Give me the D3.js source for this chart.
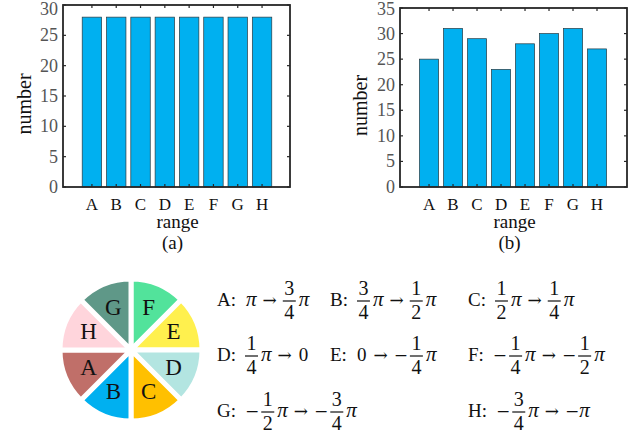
<!DOCTYPE html>
<html><head><meta charset="utf-8">
<script src="https://cdn.jsdelivr.net/npm/d3@7"></script>
<style>body{margin:0;background:#fff}svg{display:block}</style>
</head><body>
<svg id="c" width="633" height="438"></svg>
<script>
const categories = ["A","B","C","D","E","F","G","H"];
const valuesA = [28,28,28,28,28,28,28,28];
const valuesB = [25,31,29,23,28,30,31,27];
const yTicksA = [0,5,10,15,20,25,30];
const yTicksB = [0,5,10,15,20,25,30,35];
const sectorShare = [1,1,1,1,1,1,1,1];
const sectorOrder = ["F","E","D","C","B","A","H","G"];
const sectorColors = {F:"#52e39b",E:"#fff04e",D:"#b3e5e1",C:"#ffc000",B:"#00b0f0",A:"#c06f69",H:"#ffd5dc",G:"#5f9888"};
const rangeLabels = [
  {k:"A", parts:[{t:"π"},{t:"→"},{f:["3","4"]},{t:"π"}]},
  {k:"B", parts:[{f:["3","4"]},{t:"π"},{t:"→"},{f:["1","2"]},{t:"π"}]},
  {k:"C", parts:[{f:["1","2"]},{t:"π"},{t:"→"},{f:["1","4"]},{t:"π"}]},
  {k:"D", parts:[{f:["1","4"]},{t:"π"},{t:"→"},{t:"0"}]},
  {k:"E", parts:[{t:"0"},{t:"→"},{t:"−"},{f:["1","4"]},{t:"π"}]},
  {k:"F", parts:[{t:"−"},{f:["1","4"]},{t:"π"},{t:"→"},{t:"−"},{f:["1","2"]},{t:"π"}]},
  {k:"G", parts:[{t:"−"},{f:["1","2"]},{t:"π"},{t:"→"},{t:"−"},{f:["3","4"]},{t:"π"}]},
  {k:"H", parts:[{t:"−"},{f:["3","4"]},{t:"π"},{t:"→"},{t:"−",tight:true},{t:"π",tight:true}]}
];

const svg = d3.select("#c");
const FONT = "'Liberation Serif','Times New Roman',serif";
const MATH = "'DejaVu Serif',serif";

function barChart(o){
  const g = svg.append("g");
  const x = d3.scaleLinear().domain(o.xDom).range([o.left,o.right]);
  const y = d3.scaleLinear().domain([0,o.yMax]).range([o.bottom,o.top]);
  const pos = o.cats.map((c,i)=>i+1);
  const bw = x(0.8)-x(0);
  g.selectAll("rect.bar").data(o.vals).join("rect")
    .attr("x",(d,i)=>x(pos[i])-bw/2).attr("width",bw)
    .attr("y",d=>y(d)).attr("height",d=>y(0)-y(d))
    .attr("fill","#00b0f0").attr("stroke","#2a3a40").attr("stroke-width",0.7);
  const ax = g.append("g").attr("stroke","#262626").attr("stroke-width",1.2);
  ax.selectAll("line.yl").data(o.yTicks).join("line")
    .attr("x1",o.left).attr("x2",o.left+3).attr("y1",d=>y(d)).attr("y2",d=>y(d));
  ax.selectAll("line.yr").data(o.yTicks).join("line")
    .attr("x1",o.right).attr("x2",o.right-3).attr("y1",d=>y(d)).attr("y2",d=>y(d));
  ax.selectAll("line.xb").data(pos).join("line")
    .attr("x1",d=>x(d)).attr("x2",d=>x(d)).attr("y1",o.bottom).attr("y2",o.bottom-3);
  ax.selectAll("line.xt").data(pos).join("line")
    .attr("x1",d=>x(d)).attr("x2",d=>x(d)).attr("y1",o.top).attr("y2",o.top+3);
  g.append("rect").attr("x",o.left).attr("y",o.top)
    .attr("width",o.right-o.left).attr("height",o.bottom-o.top)
    .attr("fill","none").attr("stroke","#262626").attr("stroke-width",1.8);
  g.selectAll("text.yt").data(o.yTicks).join("text")
    .attr("x",o.left-5).attr("y",d=>Math.max(y(d)+6,15)).attr("text-anchor","end")
    .attr("font-family",FONT).attr("font-size",18).attr("fill","#555")
    .text(d=>d);
  g.selectAll("text.xt").data(o.cats).join("text")
    .attr("x",(d,i)=>x(pos[i])).attr("y",o.bottom+23).attr("text-anchor","middle")
    .attr("font-family",FONT).attr("font-size",17).attr("fill","#111")
    .text(d=>d);
  const cx = (o.left+o.right)/2;
  g.append("text").attr("x",cx+1).attr("y",o.bottom+41).attr("text-anchor","middle")
    .attr("font-family",FONT).attr("font-size",19).attr("fill","#111").text("range");
  g.append("text").attr("x",cx-4).attr("y",o.bottom+62).attr("text-anchor","middle")
    .attr("font-family",FONT).attr("font-size",19).attr("fill","#111").text(o.caption);
  g.append("text").attr("transform",`translate(${o.yLabX},${(o.top+o.bottom)/2+8}) rotate(-90)`)
    .attr("text-anchor","middle").attr("font-family",FONT).attr("font-size",20)
    .attr("fill","#111").text("number");
}

barChart({left:63,right:290,top:5,bottom:187,xDom:[-0.19,9.15],yMax:30,yTicks:yTicksA,
  cats:categories,vals:valuesA,caption:"(a)",yLabX:31});
barChart({left:400,right:627,top:8,bottom:187,xDom:[-0.21,9.25],yMax:35,yTicks:yTicksB,
  cats:categories,vals:valuesB,caption:"(b)",yLabX:367});

// pie
const pcx = 131, pcy = 350, R = 71;
const pie = d3.pie().sort(null).value(d=>d)(sectorShare);
const arc = d3.arc().innerRadius(0).outerRadius(R);
const pg = svg.append("g").attr("transform",`translate(${pcx},${pcy})`);
pg.selectAll("path").data(pie).join("path")
  .attr("d",arc).attr("fill",(d,i)=>sectorColors[sectorOrder[i]])
  .attr("stroke","#fff").attr("stroke-width",5).attr("stroke-linejoin","miter");
const lab = d3.arc().innerRadius(46).outerRadius(46);
pg.selectAll("text").data(pie).join("text")
  .attr("x",d=>lab.centroid(d)[0]).attr("y",d=>lab.centroid(d)[1]+7)
  .attr("text-anchor","middle").attr("font-family",FONT).attr("font-size",23)
  .attr("fill","#111").text((d,i)=>sectorOrder[i]);

// range formulas
const colX = [217,330,468];
const rowY = [300,355,411];
const fg = svg.append("g").attr("fill","#111");
function measure(s,size,fam,style){
  const t = fg.append("text").attr("font-size",size).attr("font-family",fam)
    .attr("font-style",style||"normal").text(s);
  const w = t.node().getComputedTextLength(); t.remove(); return w;
}
function sym(p,x,y){
  const s = p.t;
  let size=17, fam=MATH, style="normal", gapL=0, gapR=3;
  if(s==="π"){ fam=FONT; style="italic"; size=21; gapL=1; gapR=2; }
  if(s==="→"){ size=17; gapL=4; gapR=6; }
  if(s==="−"){ size=17; gapL=0; gapR=2; }
  if(s==="0"){ fam=FONT; size=19; gapL=1; gapR=3; }
  if(p.tight){ gapL=0; gapR=0; }
  x += gapL;
  fg.append("text").attr("x",x).attr("y",y+6).attr("font-size",size)
    .attr("font-family",fam).attr("font-style",style).text(s);
  return x + measure(s,size,fam,style) + gapR;
}
rangeLabels.forEach((r,i)=>{
  const row = Math.floor(i/3);
  let col = i%3;
  if(i===7) col = 2;
  let x = colX[col];
  const y = rowY[row];
  fg.append("text").attr("x",x).attr("y",y+6).attr("font-size",19)
    .attr("font-family",FONT).text(r.k+":");
  x += measure(r.k+":",19,FONT)+9;
  r.parts.forEach(p=>{
    if(p.f){
      const fs = 20;
      const w = Math.max(measure(p.f[0],fs,FONT),measure(p.f[1],fs,FONT));
      const cx = x + w/2 + 1.5;
      fg.append("text").attr("x",cx).attr("y",y-5).attr("font-size",fs).attr("font-family",FONT)
        .attr("text-anchor","middle").text(p.f[0]);
      fg.append("text").attr("x",cx).attr("y",y+19).attr("font-size",fs).attr("font-family",FONT)
        .attr("text-anchor","middle").text(p.f[1]);
      fg.append("line").attr("x1",x).attr("x2",x+w+3).attr("y1",y+1).attr("y2",y+1)
        .attr("stroke","#111").attr("stroke-width",1.2);
      x += w+5;
    } else {
      x = sym(p,x,y);
    }
  });
});
</script>
</body></html>
